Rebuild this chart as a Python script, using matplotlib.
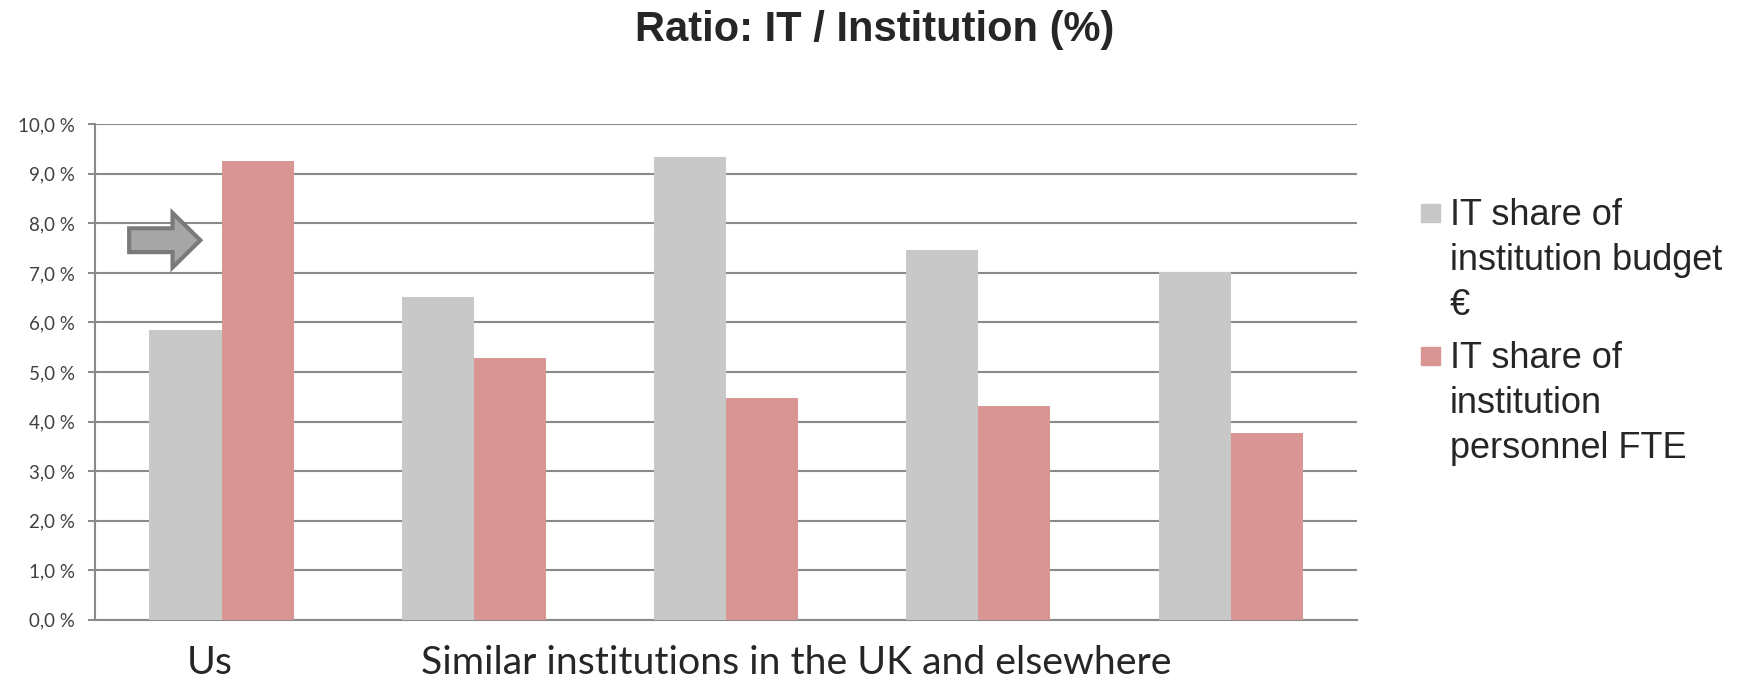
import numpy as np
import matplotlib
matplotlib.use("Agg")
from matplotlib import pyplot as plt
import matplotlib.patches as mpatches

# values (percent)
groups = ["Us", "Inst 1", "Inst 2", "Inst 3", "Inst 4"]
budget_share = [5.85, 6.51, 9.34, 7.46, 7.02]
fte_share = [9.26, 5.29, 4.47, 4.31, 3.77]
y_ticks = [0, 1, 2, 3, 4, 5, 6, 7, 8, 9, 10]
y_tick_labels = ["0,0 %", "1,0 %", "2,0 %", "3,0 %", "4,0 %", "5,0 %",
                 "6,0 %", "7,0 %", "8,0 %", "9,0 %", "10,0 %"]
legend_labels = [["IT share of", "institution budget", "€"],
                 ["IT share of", "institution", "personnel FTE"]]

gray = "#c8c8c8"
red = "#d99594"
grid_c = "#8a8a8a"

fig = plt.figure(figsize=(17.4, 6.81), dpi=100)
ax = fig.add_axes([0.0548, 0.09, 0.725, 0.7275])

x = np.arange(len(groups))
w = 0.2854
ax.bar(x - w / 2, budget_share, w, color=gray, zorder=3)
ax.bar(x + w / 2, fte_share, w, color=red, zorder=3)

ax.set_xlim(-0.5, len(groups) - 0.5)
ax.set_ylim(0, 10)
ax.set_yticks(y_ticks)
ax.set_yticklabels(y_tick_labels, fontfamily="Lato", fontsize=13.5, color="#404040")
ax.tick_params(axis="y", length=4.8, width=1.4, color=grid_c, pad=10)
ax.set_xticks([])
ax.yaxis.grid(True, color=grid_c, linewidth=1.5, zorder=0)
for s in ["top", "right"]:
    ax.spines[s].set_visible(False)
for s in ["left", "bottom"]:
    ax.spines[s].set_color(grid_c)
    ax.spines[s].set_linewidth(1.5)

# category labels under the axis
ax.annotate("Us", xy=(-0.047, 0), xycoords=ax.get_xaxis_transform(),
            xytext=(0, -39), textcoords="offset points", ha="center",
            va="baseline", fontfamily="Lato", fontsize=28.3, color="#262626")
ax.annotate("Similar institutions in the UK and elsewhere", xy=(2.28, 0),
            xycoords=ax.get_xaxis_transform(), xytext=(0, -39),
            textcoords="offset points", ha="center", va="baseline",
            fontfamily="Lato", fontsize=28.3, color="#262626")

# the arrow pointing at "Us"
arrow = mpatches.FancyArrow(-0.366, 7.66, 0.282, 0, width=0.48, head_width=1.1,
                            head_length=0.11, length_includes_head=True,
                            facecolor="#a6a6a6", edgecolor="#7a7a7a",
                            linewidth=3, zorder=4)
ax.add_patch(arrow)

fig.text(0.5026, 1 - 41 / 681, "Ratio: IT / Institution (%)", ha="center",
         va="baseline", fontfamily="Liberation Sans", fontweight="bold",
         fontsize=30, color="#262626")

# legend drawn by hand so the square sits by the first line
H, W = 681, 1740
for colr, lines, y0 in [(gray, legend_labels[0], 225), (red, legend_labels[1], 368)]:
    fig.add_artist(mpatches.Rectangle((1421 / W, 1 - (y0 - 3) / H), 19 / W, 18 / H,
                                      transform=fig.transFigure, color=colr))
    for k, line in enumerate(lines):
        fig.text(1450 / W, 1 - (y0 + 45 * k) / H, line, ha="left", va="baseline",
                 fontfamily="Liberation Sans", fontsize=26, color="#262626")

plt.savefig("out.png", dpi=100)
